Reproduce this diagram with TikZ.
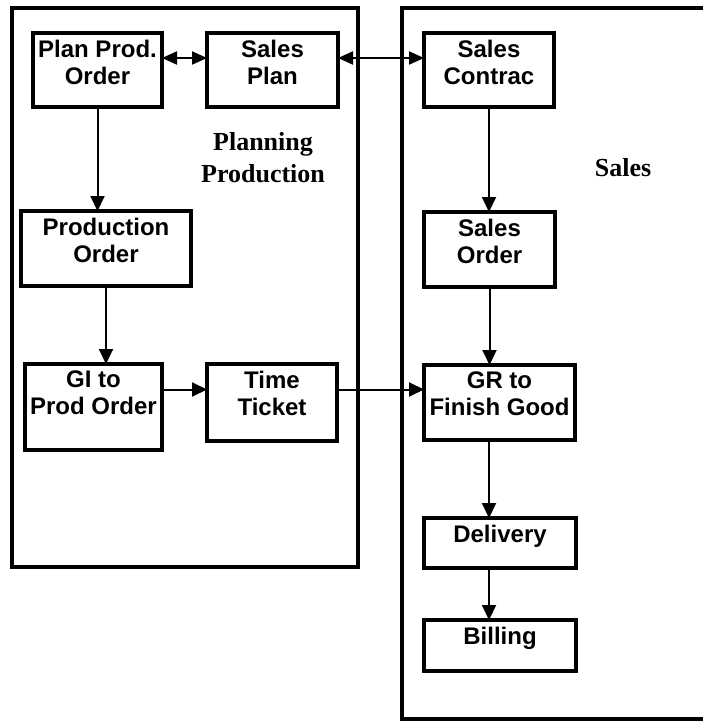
\documentclass[tikz,border=0pt]{standalone}
\usepackage{fontspec}
\newfontfamily\boxfont{Liberation Sans}
\newfontfamily\lanefont{Liberation Serif}
\usetikzlibrary{arrows.meta}
\begin{document}
\begin{tikzpicture}[x=1pt,y=-1pt,
  stepbox/.style={draw, line width=3.4pt, inner sep=0pt, outer sep=0pt},
  boxtext/.style={font=\boxfont\bfseries\fontsize{24}{27}\selectfont, align=center, inner sep=0pt, anchor=north},
  lane/.style={draw, line width=3.8pt},
  lanetext/.style={font=\lanefont\bfseries\fontsize{26}{32}\selectfont, align=center, inner sep=0pt},
  arr/.style={line width=2pt, -{Triangle[length=15pt,width=14pt]}},
  darr/.style={line width=2pt, {Triangle[length=15pt,width=13pt]}-{Triangle[length=15pt,width=13pt]}}]
\useasboundingbox (0,0) rectangle (703,722);

% swim lanes
\draw[lane] (12,8) rectangle (358,567);
\draw[lane] (712,8) -- (402,8) -- (402,719) -- (712,719);
\node[lanetext, anchor=north] (lanePP) at (263,132.5) {Planning\\Production};
\node[lanetext, anchor=base] (laneS) at (623,176) {Sales};

% process boxes
\node[stepbox, minimum width=129pt, minimum height=74pt] (ppo) at (97.5,70) {};
\node[stepbox, minimum width=131pt, minimum height=74pt] (sp)  at (272.5,70) {};
\node[stepbox, minimum width=130pt, minimum height=74pt] (sc)  at (489,70) {};
\node[stepbox, minimum width=170pt, minimum height=75pt] (po)  at (106,248.5) {};
\node[stepbox, minimum width=131pt, minimum height=75pt] (so)  at (489.5,249.5) {};
\node[stepbox, minimum width=137pt, minimum height=86pt] (gi)  at (93.5,407) {};
\node[stepbox, minimum width=130pt, minimum height=77pt] (tt)  at (272,402.5) {};
\node[stepbox, minimum width=151pt, minimum height=75pt] (gr)  at (499.5,402.5) {};
\node[stepbox, minimum width=152pt, minimum height=50pt] (del) at (500,543) {};
\node[stepbox, minimum width=152pt, minimum height=51pt] (bil) at (500,645.5) {};

% box captions
\node[boxtext] (ppo-t) at ([yshift=-7pt]ppo.north) {Plan Prod.\\Order};
\node[boxtext] (sp-t)  at ([yshift=-7pt]sp.north)  {Sales\\Plan};
\node[boxtext] (sc-t)  at ([yshift=-7pt]sc.north)  {Sales\\Contrac};
\node[boxtext] (po-t)  at ([yshift=-7pt]po.north)  {Production\\Order};
\node[boxtext] (so-t)  at ([yshift=-7pt]so.north)  {Sales\\Order};
\node[boxtext] (gi-t)  at ([yshift=-7pt]gi.north)  {GI to\\Prod Order};
\node[boxtext] (tt-t)  at ([yshift=-7pt]tt.north)  {Time\\Ticket};
\node[boxtext] (gr-t)  at ([yshift=-7pt]gr.north)  {GR to\\Finish Good};
\node[boxtext] (del-t) at ([yshift=-7pt]del.north) {Delivery};
\node[boxtext] (bil-t) at ([yshift=-7pt]bil.north) {Billing};

% connector rows
\coordinate (rowA) at (0,58);
\coordinate (rowB) at (0,389.5);

% connectors
\draw[darr] (ppo.east |- rowA) -- (sp.west |- rowA);
\draw[darr] (sp.east |- rowA) -- (sc.west |- rowA);
\draw[arr] (ppo.south) -- (po.north -| ppo.south);
\draw[arr] (po.south) -- (gi.north -| po.south);
\draw[arr] (gi.east |- rowB) -- (tt.west |- rowB);
\draw[arr] (tt.east |- rowB) -- (gr.west |- rowB);
\draw[arr] (sc.south) -- (so.north -| sc.south);
\draw[arr] (so.south) -- (gr.north -| so.south);
\draw[arr] (gr.south -| sc.south) -- (del.north -| sc.south);
\draw[arr] (del.south -| sc.south) -- (bil.north -| sc.south);
\end{tikzpicture}
\end{document}
